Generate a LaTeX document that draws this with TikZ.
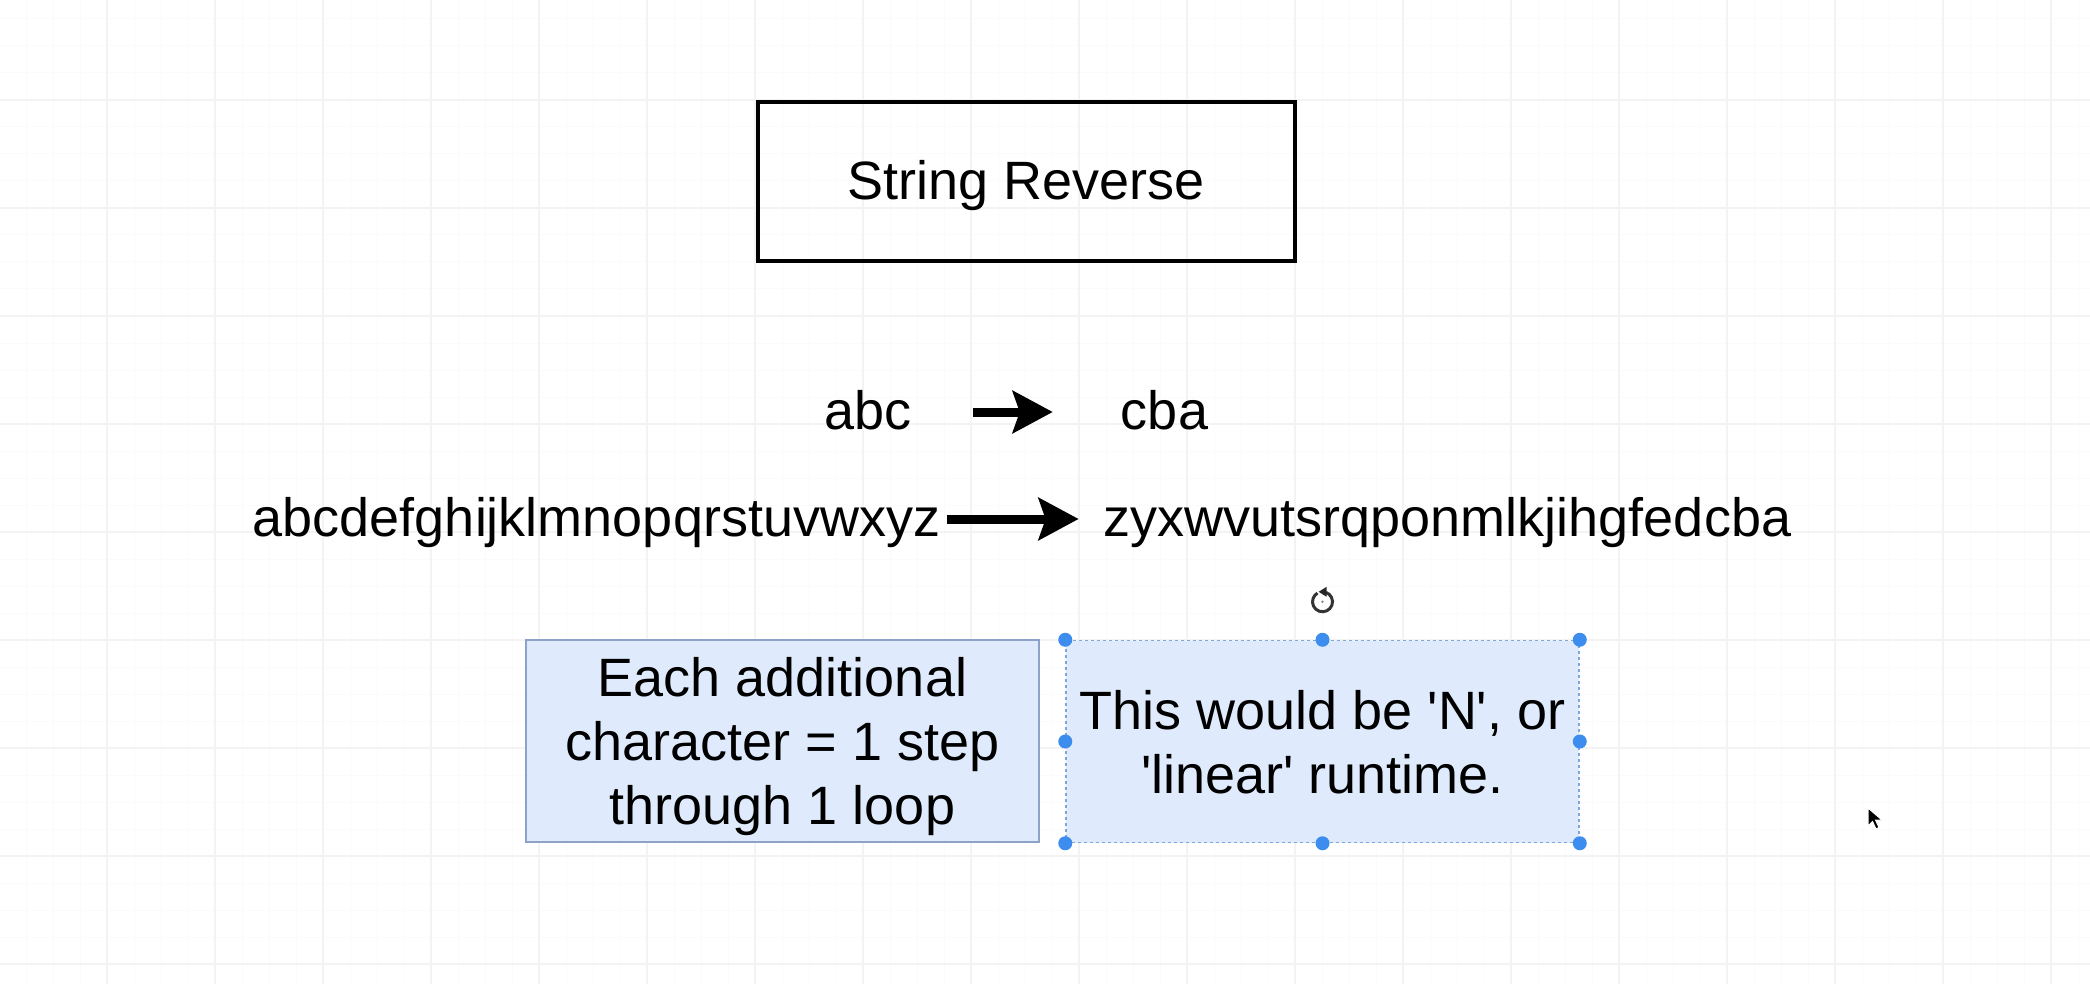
\documentclass[tikz,border=0pt]{standalone}
\usepackage{fontspec}
\setmainfont{Liberation Sans}
\usetikzlibrary{arrows.meta}
\definecolor{gridminor}{HTML}{FBFBFB}
\definecolor{gridmajor}{HTML}{F3F3F3}
\definecolor{boxfill}{HTML}{DFEBFC}
\definecolor{boxline}{HTML}{8DA2C6}
\definecolor{selblue}{HTML}{3D8DEE}
\definecolor{seldash}{HTML}{7FA6DA}
\begin{document}
\begin{tikzpicture}[x=1pt,y=-1pt,
  bigfont/.style={font=\fontsize{54}{64}\selectfont},
  txt/.style={bigfont, inner sep=0pt, text height=39pt, text depth=5pt},
  titlebox/.style={draw, line width=4pt, minimum width=537pt, minimum height=159pt,
    inner sep=0pt, bigfont, text height=39pt, text depth=2pt},
  note/.style={fill=boxfill, draw=boxline, line width=2pt, minimum width=513pt,
    minimum height=202pt, inner sep=0pt},
  selnote/.style={note, draw=seldash, dashed, line width=1.5pt},
  notetext/.style={align=center, inner sep=0pt, bigfont},
  bigarrow/.style={line width=9pt, -{Stealth[length=40pt,width=42pt,inset=7pt]}},
  handle/.style={circle, fill=selblue, minimum size=14pt, inner sep=0pt},
  minorline/.style={gridminor, line width=1pt},
  majorline/.style={gridmajor, line width=1.5pt}
]
\useasboundingbox (0,0) rectangle (2090,984);
\fill[white] (0,0) rectangle (2090,984);
% background grid
\foreach \x in {26,53,...,2090} \draw[minorline] (\x,0) -- (\x,984);
\foreach \y in {19,46,...,984} \draw[minorline] (0,\y) -- (2090,\y);
\foreach \x in {107,215,...,2090} \draw[majorline] (\x,0) -- (\x,984);
\foreach \y in {100,208,...,984} \draw[majorline] (0,\y) -- (2090,\y);

% title
\node[titlebox] (title) at (1026.5,181.5) {String Reverse};

% examples
\node[txt] (abc) at (868,412) {abc};
\node[txt] (cba) at (1164.5,412) {cba};
\node[txt] (alpha) at (596.5,519) {abcdefghijklmnopqrstuvwxyz};
\node[txt] (rev) at (1447.5,519) {zyxwvutsrqponmlkjihgfedcba};
\draw[bigarrow, shorten <=61pt, shorten >=68pt] (abc.east) -- (cba.west);
\draw[bigarrow, shorten <=7pt, shorten >=25pt] (alpha.east) -- (rev.west);

% notes
\node[note] (step) at (782.5,741) {};
\node[notetext] (steptxt) at ([yshift=-6pt]step.center) {Each additional\\character = 1 step\\through 1 loop};
\node[selnote] (lin) at (1322.5,741.5) {};
\node[notetext] (lintxt) at ([yshift=-1pt]lin.center) {This would be \textquotesingle N\textquotesingle, or\\\textquotesingle linear\textquotesingle\ runtime.};
\foreach \a [count=\i] in {north west,north,north east,west,east,south west,south,south east}
  \node[handle] (h\i) at (lin.\a) {};

% rotation handle
\coordinate (rot) at ([yshift=38pt]lin.north);
\draw[black!80, line width=3pt] ([shift={(70:10pt)}]rot) arc[start angle=70, end angle=-240, radius=10pt];
\fill[black!85] ([shift={(95:10pt)}]rot) ++(5pt,5pt) -- ++(-8pt,-5pt) -- ++(8pt,-5pt) -- cycle;
\fill[black!45] (rot) circle (1.3pt);

% mouse cursor
\coordinate (cur) at (1868,808);
\filldraw[black, draw=white, line width=1pt] (cur) -- ++(0,18) -- ++(4.5,-4.5) -- ++(3.5,7.5)
  -- ++(3,-1.5) -- ++(-3.5,-7.5) -- ++(6.5,0) -- cycle;
\end{tikzpicture}
\end{document}
